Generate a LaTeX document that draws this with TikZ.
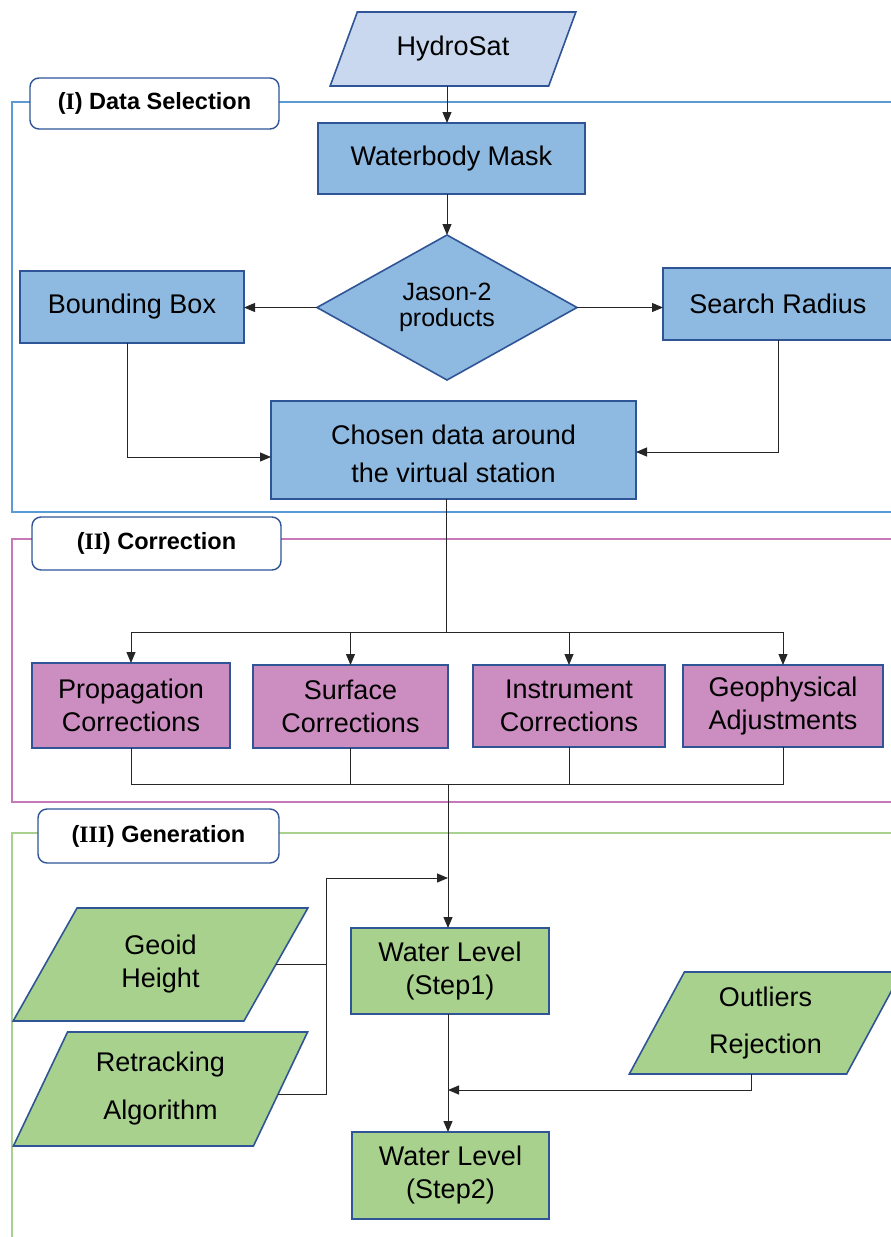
\documentclass[tikz,border=0pt]{standalone}
\usepackage{fontspec}
\setmainfont{Liberation Sans}
\newfontfamily\romfont{Liberation Serif}
\usetikzlibrary{arrows.meta, positioning, shapes.geometric}

\definecolor{frameblue}{HTML}{5B9BD5}
\definecolor{framepink}{HTML}{C678B8}
\definecolor{framegreen}{HTML}{A9D18E}
\definecolor{edgeblue}{HTML}{2F5597}
\definecolor{fillsat}{HTML}{C9D8EE}
\definecolor{fillblue}{HTML}{8EB9E1}
\definecolor{fillpink}{HTML}{CC8DC0}
\definecolor{fillgreen}{HTML}{A9D18E}

\tikzset{
    box/.style={draw=edgeblue, line width=1.6pt, rectangle, align=center,
        inner sep=0pt, outer sep=0pt, font=\fontsize{27}{33}\selectfont},
    datain/.style={box, trapezium, trapezium stretches=true},
    decide/.style={box, diamond, font=\fontsize{25}{26}\selectfont},
    tag/.style={draw=edgeblue, line width=1.4pt, rounded corners=9pt, fill=white,
        inner sep=0pt, outer sep=0pt, font=\fontsize{23.5}{27}\selectfont\bfseries},
    frame/.style={line width=1.6pt},
    link/.style={draw=black!85, line width=1pt, -{Triangle[length=11pt,width=9pt]}},
    wire/.style={draw=black!85, line width=1pt},
}

\begin{document}
\begin{tikzpicture}[x=1pt, y=-1pt]
    \useasboundingbox (0,0) rectangle (891,1237);

    % section frames
    \draw[frame, frameblue]  (895,102) -| (12,512) -- (895,512);
    \draw[frame, framepink]  (895,539) -| (12,802) -- (895,802);
    \draw[frame, framegreen] (895,833) -| (12,1245);

    % (I) data selection
    \node[tag, minimum width=249pt, minimum height=51pt] (tag1) at (154.5,103.5) {({\romfont I}) Data Selection};
    \node[datain, fill=fillsat, trapezium left angle=57.6, trapezium right angle=122.4,
          minimum width=246pt, minimum height=74pt] (sat) at (453,49) {HydroSat};
    \node[box, fill=fillblue, minimum width=267pt, minimum height=71pt] (mask) at (451.5,158.5) {Waterbody Mask};
    \node[decide, fill=fillblue, minimum width=260pt, minimum height=145pt] (jason) at (447,307.5) {Jason-2\\products};
    \node[box, fill=fillblue, minimum width=224pt, minimum height=72pt] (bbox) at (132,307) {Bounding Box};
    \node[box, fill=fillblue, minimum width=230pt, minimum height=72pt] (search) at (778,304) {Search Radius};
    \node[box, fill=fillblue, minimum width=365pt, minimum height=98pt,
          font=\fontsize{27}{38}\selectfont] (chosen) at (453.5,450) {\rule{0pt}{28pt}Chosen data around\\the virtual station};

    % (II) correction
    \node[tag, minimum width=249pt, minimum height=53pt] (tag2) at (156.5,543.5) {({\romfont II}) Correction};
    \node[box, fill=fillpink, minimum width=198pt, minimum height=85pt] (prop) at (131,705.5) {Propagation\\Corrections};
    \node[box, fill=fillpink, minimum width=195pt, minimum height=83pt] (surf) at (350.5,706.5) {Surface\\Corrections};
    \node[box, fill=fillpink, minimum width=192pt, minimum height=82pt] (inst) at (569,706) {Instrument\\Corrections};
    \node[box, fill=fillpink, minimum width=200pt, minimum height=82pt] (geo) at (783,706) {Geophysical\\Adjustments};

    % (III) generation
    \node[tag, minimum width=241pt, minimum height=54pt] (tag3) at (158.5,836) {({\romfont III}) Generation};
    \node[datain, fill=fillgreen, trapezium left angle=62.8, trapezium right angle=117.2,
          minimum width=295pt, minimum height=113pt] (geoid) at (160.5,964.5) {Geoid\\Height};
    \node[datain, fill=fillgreen, trapezium left angle=62.8, trapezium right angle=117.2,
          minimum width=295pt, minimum height=114pt, font=\fontsize{27}{48}\selectfont] (retrack) at (160.5,1089) {Retracking\\Algorithm};
    \node[datain, fill=fillgreen, trapezium left angle=62.1, trapezium right angle=117.9,
          minimum width=273pt, minimum height=102pt, font=\fontsize{27}{47}\selectfont] (outl) at (765.5,1023) {Outliers\\Rejection};
    \node[box, fill=fillgreen, minimum width=198pt, minimum height=86pt] (wl1) at (450,971) {Water Level\\(Step1)};
    \node[box, fill=fillgreen, minimum width=197pt, minimum height=87pt] (wl2) at (450.5,1175.5) {Water Level\\(Step2)};

    \coordinate (split) at (446,632);
    \coordinate (merge) at (448,784);
    \coordinate (bend)  at (326,878);
    \coordinate (reject) at (448,1090);

    % connectors
    \draw[link] (jason.north |- sat.south) -- (jason.north |- mask.north);
    \draw[link] (jason.north |- mask.south) -- (jason.north);
    \draw[link] (jason.west) -- (jason.west -| bbox.east);
    \draw[link] (jason.east) -- (jason.east -| search.west);
    \draw[link] ([xshift=-5pt]bbox.south) |- ([yshift=-7pt]chosen.west);
    \draw[link] (search.south) |- ([yshift=-2pt]chosen.east);

    \draw[wire] (split |- chosen.south) -- (split);
    \foreach \b in {prop, surf, inst, geo}
        \draw[link] (split) -| (\b.north);
    \foreach \b in {prop, surf, inst, geo}
        \draw[wire] (\b.south) |- (merge);
    \draw[link] (merge) -- (merge |- wl1.north);

    \draw[wire] (geoid.east) -- (geoid.east -| bend);
    \draw[link] ([shift={(-2.6pt,-5pt)}]retrack.east) -| (bend) -- (bend -| merge);
    \draw[link] (wl1.south -| merge) -- (wl2.north -| merge);
    \draw[link] ([xshift=-14pt]outl.south) |- (reject);
\end{tikzpicture}
\end{document}
